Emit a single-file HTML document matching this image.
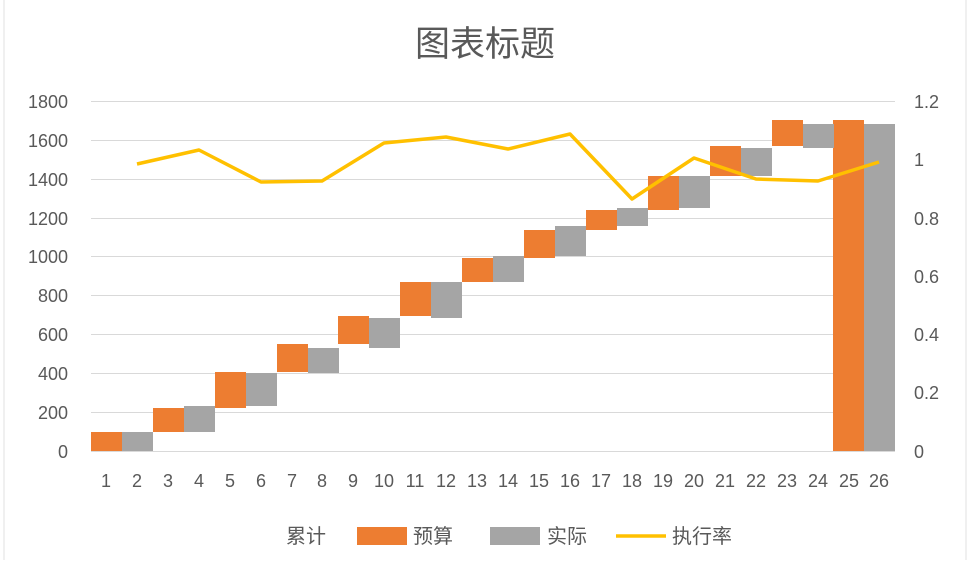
<!DOCTYPE html>
<html><head><meta charset="utf-8"><style>
html,body{margin:0;padding:0;background:#fff;}
svg text{font-family:"Liberation Sans","Noto Sans CJK SC",sans-serif;fill:#595959;}
</style></head><body>
<svg width="970" height="560" xmlns="http://www.w3.org/2000/svg">
<rect x="0" y="0" width="970" height="560" fill="#fff"/>
<line x1="4" y1="0" x2="4" y2="560" stroke="#e0e0e0"/>
<line x1="966" y1="0" x2="966" y2="560" stroke="#e0e0e0"/>
<text x="485" y="56" font-size="35" text-anchor="middle">图表标题</text>
<g stroke="#d9d9d9" stroke-width="1">
<line x1="91" y1="101.5" x2="895" y2="101.5"/><line x1="91" y1="140.5" x2="895" y2="140.5"/>
<line x1="91" y1="179.5" x2="895" y2="179.5"/><line x1="91" y1="218.5" x2="895" y2="218.5"/>
<line x1="91" y1="256.5" x2="895" y2="256.5"/><line x1="91" y1="295.5" x2="895" y2="295.5"/>
<line x1="91" y1="334.5" x2="895" y2="334.5"/><line x1="91" y1="373.5" x2="895" y2="373.5"/>
<line x1="91" y1="412.5" x2="895" y2="412.5"/><line x1="91" y1="451.5" x2="895" y2="451.5"/>
</g>
<g font-size="18" text-anchor="end">
<text x="68" y="108">1800</text><text x="68" y="147">1600</text><text x="68" y="186">1400</text>
<text x="68" y="225">1200</text><text x="68" y="263">1000</text><text x="68" y="302">800</text>
<text x="68" y="341">600</text><text x="68" y="380">400</text><text x="68" y="419">200</text>
<text x="68" y="458">0</text>
</g>
<g font-size="18">
<text x="914" y="108">1.2</text><text x="914" y="166">1</text><text x="914" y="225">0.8</text>
<text x="914" y="283">0.6</text><text x="914" y="341">0.4</text><text x="914" y="399">0.2</text>
<text x="914" y="458">0</text>
</g>
<g fill="#ed7d31">
<rect x="91" y="432" width="31" height="19"/>
<rect x="153" y="408" width="31" height="24"/>
<rect x="215" y="372" width="31" height="36"/>
<rect x="277" y="344" width="31" height="28"/>
<rect x="338" y="316" width="31" height="28"/>
<rect x="400" y="282" width="31" height="34"/>
<rect x="462" y="258" width="31" height="24"/>
<rect x="524" y="230" width="31" height="28"/>
<rect x="586" y="210" width="31" height="20"/>
<rect x="648" y="176" width="31" height="34"/>
<rect x="710" y="146" width="31" height="30"/>
<rect x="772" y="120" width="31" height="26"/>
<rect x="833" y="120" width="31" height="331"/>
</g>
<g fill="#a5a5a5">
<rect x="122" y="432" width="31" height="19"/>
<rect x="184" y="406" width="31" height="26"/>
<rect x="246" y="373" width="31" height="33"/>
<rect x="308" y="348" width="31" height="25"/>
<rect x="369" y="318" width="31" height="30"/>
<rect x="431" y="282" width="31" height="36"/>
<rect x="493" y="256" width="31" height="26"/>
<rect x="555" y="226" width="31" height="30"/>
<rect x="617" y="208" width="31" height="18"/>
<rect x="679" y="176" width="31" height="32"/>
<rect x="741" y="148" width="31" height="28"/>
<rect x="803" y="124" width="31" height="24"/>
<rect x="864" y="124" width="31" height="327"/>
</g>
<polyline fill="none" stroke="#ffc000" stroke-width="3.5" stroke-linejoin="round"
points="137,164 199,150 261,182 322,181 384,143 446,137 508,149 570,134 632,199 694,158 756,179 818,181 879,162"/>
<g font-size="18" text-anchor="middle">
<text x="106" y="487">1</text><text x="137" y="487">2</text><text x="168" y="487">3</text>
<text x="199" y="487">4</text><text x="230" y="487">5</text><text x="261" y="487">6</text>
<text x="292" y="487">7</text><text x="322" y="487">8</text><text x="353" y="487">9</text>
<text x="384" y="487">10</text><text x="415" y="487">11</text><text x="446" y="487">12</text>
<text x="477" y="487">13</text><text x="508" y="487">14</text><text x="539" y="487">15</text>
<text x="570" y="487">16</text><text x="601" y="487">17</text><text x="632" y="487">18</text>
<text x="663" y="487">19</text><text x="694" y="487">20</text><text x="725" y="487">21</text>
<text x="756" y="487">22</text><text x="787" y="487">23</text><text x="818" y="487">24</text>
<text x="849" y="487">25</text><text x="879" y="487">26</text>
</g>
<g font-size="20">
<text x="286" y="543">累计</text>
<rect x="357" y="527" width="50" height="18" fill="#ed7d31"/>
<text x="413" y="543">预算</text>
<rect x="490" y="527" width="50" height="18" fill="#a5a5a5"/>
<text x="547" y="543">实际</text>
<line x1="616" y1="536" x2="666" y2="536" stroke="#ffc000" stroke-width="3.5"/>
<text x="672" y="543">执行率</text>
</g>
</svg>
</body></html>
